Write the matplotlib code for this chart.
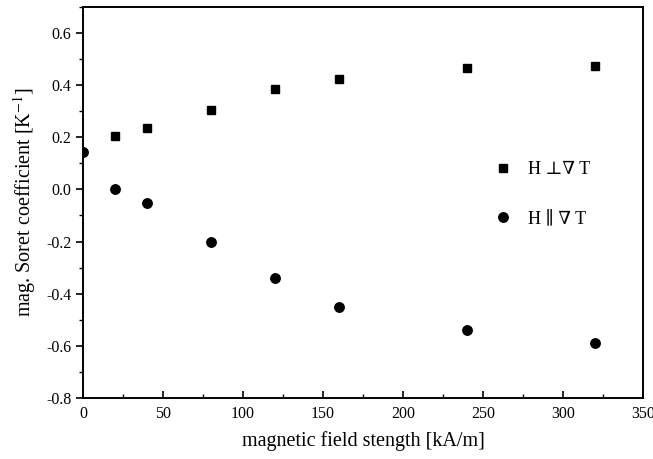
import numpy as np
import matplotlib
matplotlib.use("Agg")
import matplotlib.pyplot as plt
from matplotlib.ticker import MultipleLocator

plt.rcParams["font.family"] = ["Liberation Serif", "DejaVu Serif"]
plt.rcParams["mathtext.fontset"] = "stix"

# data
field_perp = [20, 40, 80, 120, 160, 240, 320]
soret_perp = [0.205, 0.235, 0.305, 0.385, 0.425, 0.465, 0.475]
field_par = [0, 20, 40, 80, 120, 160, 240, 320]
soret_par = [0.145, 0.003, -0.052, -0.200, -0.340, -0.452, -0.540, -0.590]

fig = plt.figure(figsize=(6.53, 4.59), dpi=100)
ax = fig.add_axes([0.127, 0.133, 0.858, 0.852])

ax.plot(field_perp, soret_perp, "s", color="black", markersize=6.0, label=u"H \u22a5\u2207 T")
ax.plot(field_par, soret_par, "o", color="black", markersize=6.8, label=u"H \u2225 \u2207 T")

ax.set_xlim(0, 350)
ax.set_ylim(-0.8, 0.7)
ax.xaxis.set_major_locator(MultipleLocator(50))
ax.xaxis.set_minor_locator(MultipleLocator(25))
ax.yaxis.set_major_locator(MultipleLocator(0.2))
ax.yaxis.set_minor_locator(MultipleLocator(0.1))
ax.yaxis.set_major_formatter(plt.FuncFormatter(lambda v, p: "%.1f" % v))

for s in ax.spines.values():
    s.set_linewidth(1.4)
ax.tick_params(axis="x", which="both", direction="in", labelsize=11.5, pad=6)
ax.tick_params(axis="y", which="both", direction="out", labelsize=11.5)
ax.tick_params(which="major", length=5, width=1.2)
ax.tick_params(which="minor", length=3, width=1.0)

ax.set_xlabel("magnetic field stength [kA/m]", fontsize=14.5, labelpad=6)
ax.set_ylabel(r"mag. Soret coefficient [K$^{-1}$]", fontsize=14.5, labelpad=6)

leg = ax.legend(loc="upper left", bbox_to_anchor=(0.705, 0.647), frameon=False,
                fontsize=13, handletextpad=0.9, labelspacing=1.8, handlelength=1.0)

fig.savefig("out.png", dpi=100)
